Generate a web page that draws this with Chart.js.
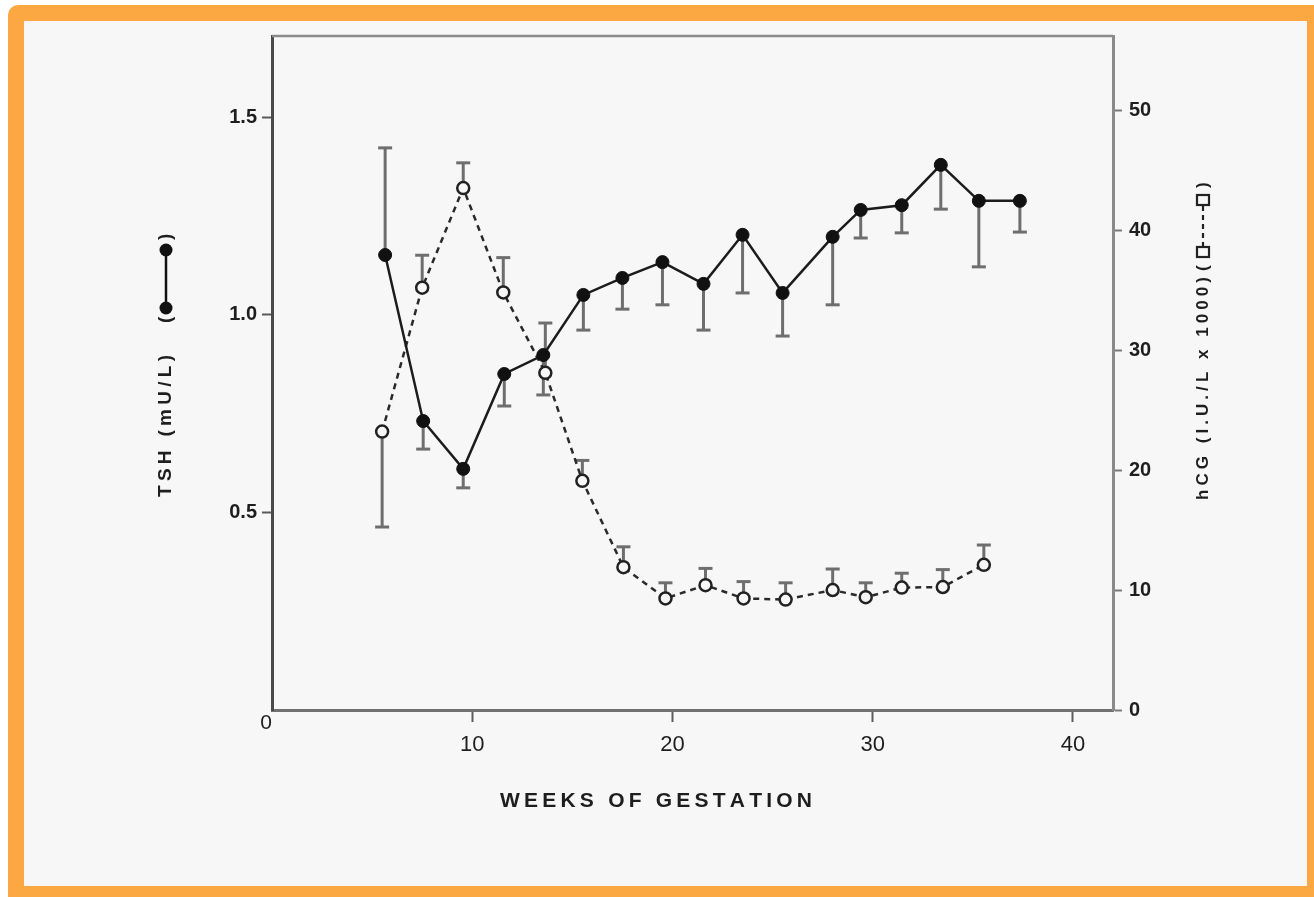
<!DOCTYPE html>
<html><head><meta charset="utf-8">
<script src="https://cdn.jsdelivr.net/npm/chart.js@4.4.0/dist/chart.umd.min.js"></script>
<style>
html,body{margin:0;padding:0;background:#fff;width:1314px;height:897px;overflow:hidden;}
#frame{position:absolute;left:8px;top:5px;right:0;bottom:0;box-sizing:border-box;border-style:solid;border-color:#FBA843;border-width:16px 7px 11px 16px;border-top-left-radius:10px;background:#F7F7F7;}
#wrap{position:absolute;left:0;top:0;width:1314px;height:897px;}
</style></head><body>
<div id="frame"></div>
<div id="wrap"><canvas id="c" width="1314" height="897"></canvas></div>
<script>
// ---- data ----
const tshWeeks = [5.65, 7.55, 9.55, 11.6, 13.55, 15.55, 17.5, 19.5, 21.55, 23.5, 25.5, 28.0, 29.4, 31.45, 33.4, 35.3, 37.35];
const tshValues = [1.151, 0.731, 0.610, 0.850, 0.898, 1.050, 1.093, 1.133, 1.078, 1.202, 1.055, 1.197, 1.265, 1.277, 1.379, 1.288, 1.288];
const tshErrorEnds = [1.422, 0.660, 0.562, 0.769, 0.797, 0.961, 1.014, 1.025, 0.961, 1.055, 0.946, 1.025, 1.194, 1.207, 1.267, 1.121, 1.209];
const hcgWeeks = [5.5, 7.5, 9.55, 11.55, 13.65, 15.5, 17.55, 19.65, 21.65, 23.55, 25.65, 28.0, 29.65, 31.45, 33.5, 35.55];
const hcgValues = [23.2, 35.2, 43.5, 34.8, 28.1, 19.1, 11.9, 9.3, 10.4, 9.3, 9.2, 10.0, 9.4, 10.2, 10.25, 12.1];
const hcgErrorEnds = [15.25, 37.9, 45.6, 37.7, 32.25, 20.8, 13.6, 10.6, 11.8, 10.7, 10.6, 11.75, 10.6, 11.4, 11.7, 13.75];
const xTickStep = 10;
const tshTickStep = 0.5;
const hcgTickStep = 10;
const xTitle = 'WEEKS OF GESTATION';
const leftTitle = 'TSH (mU/L)';
const rightTitle = 'hCG (I.U./L x 1000)';

const FONT = '"Liberation Sans", Arial, sans-serif';
const INK = '#1e1e1e';

function drawSpaced(ctx, text, x, y, total) {
  const chars = Array.from(text);
  let w = 0; chars.forEach(c => w += ctx.measureText(c).width);
  const sp = chars.length > 1 ? (total - w) / (chars.length - 1) : 0;
  chars.forEach(c => { ctx.fillText(c, x, y); x += ctx.measureText(c).width + sp; });
}

const decorPlugin = {
  id: 'decor',
  beforeDatasetsDraw(chart) {
    const ctx = chart.ctx, xs = chart.scales.x;
    const drawBars = (wk, vals, ends, ys) => {
      ctx.save();
      ctx.strokeStyle = '#6e6e6e'; ctx.lineWidth = 3; ctx.lineCap = 'butt';
      wk.forEach((w, i) => {
        const px = xs.getPixelForValue(w), py = ys.getPixelForValue(vals[i]), pe = ys.getPixelForValue(ends[i]);
        ctx.beginPath(); ctx.moveTo(px, py); ctx.lineTo(px, pe); ctx.stroke();
        ctx.beginPath(); ctx.moveTo(px - 7, pe); ctx.lineTo(px + 7, pe); ctx.stroke();
      });
      ctx.restore();
    };
    drawBars(tshWeeks, tshValues, tshErrorEnds, chart.scales.y);
    drawBars(hcgWeeks, hcgValues, hcgErrorEnds, chart.scales.y2);
  },
  afterDraw(chart) {
    const ctx = chart.ctx, a = chart.chartArea, xs = chart.scales.x;
    ctx.save();
    // top frame line
    ctx.strokeStyle = '#8a8a8a'; ctx.lineWidth = 2.5;
    ctx.beginPath(); ctx.moveTo(a.left, a.top); ctx.lineTo(a.right, a.top); ctx.stroke();
    ctx.fillStyle = INK;
    // origin label
    ctx.font = '21px ' + FONT; ctx.textAlign = 'center'; ctx.textBaseline = 'middle';
    ctx.fillText('0', xs.getPixelForValue(0) - 6, a.bottom + 13);
    // x title
    ctx.font = 'bold 21px ' + FONT; ctx.textAlign = 'left';
    drawSpaced(ctx, xTitle, 500, 801, 312);
    // left title
    ctx.save();
    ctx.translate(166, 497); ctx.rotate(-Math.PI / 2);
    ctx.font = 'bold 19px ' + FONT; ctx.textBaseline = 'middle'; ctx.textAlign = 'left';
    drawSpaced(ctx, leftTitle, 0, 0, 142);
    // legend symbol (filled)
    ctx.fillText('(', 174, 0);
    ctx.fillText(')', 257, 0);
    ctx.strokeStyle = '#111'; ctx.lineWidth = 2.5;
    ctx.beginPath(); ctx.moveTo(189, 0); ctx.lineTo(247, 0); ctx.stroke();
    ctx.fillStyle = '#111';
    [189, 247].forEach(t => { ctx.beginPath(); ctx.arc(t, 0, 6.5, 0, Math.PI * 2); ctx.fill(); });
    ctx.restore();
    // right title
    ctx.save();
    ctx.translate(1203, 500); ctx.rotate(-Math.PI / 2);
    ctx.fillStyle = INK;
    ctx.font = 'bold 17px ' + FONT; ctx.textBaseline = 'middle'; ctx.textAlign = 'left';
    drawSpaced(ctx, rightTitle, 0, 0, 223);
    ctx.fillText('(', 229, 0);
    ctx.fillText(')', 312, 0);
    ctx.strokeStyle = '#222'; ctx.lineWidth = 2.2;
    ctx.setLineDash([5, 4]);
    ctx.beginPath(); ctx.moveTo(253, 0); ctx.lineTo(298, 0); ctx.stroke();
    ctx.setLineDash([]);
    [248, 300].forEach(t => { ctx.fillStyle = '#f7f7f7'; ctx.fillRect(t - 5, -6, 10, 12); ctx.strokeRect(t - 5, -6, 10, 12); });
    ctx.restore();
    ctx.restore();
  }
};

const tickCol = c => (c.tick && c.tick.value === 0) ? 'rgba(0,0,0,0)' : '#5a5a5a';

new Chart(document.getElementById('c'), {
  type: 'line',
  data: {
    datasets: [
      {
        label: 'TSH', yAxisID: 'y',
        data: tshWeeks.map((w, i) => ({ x: w, y: tshValues[i] })),
        borderColor: '#1c1c1c', borderWidth: 2.5, tension: 0,
        pointRadius: 6.5, pointBackgroundColor: '#111', pointBorderColor: '#111', pointBorderWidth: 1
      },
      {
        label: 'hCG', yAxisID: 'y2',
        data: hcgWeeks.map((w, i) => ({ x: w, y: hcgValues[i] })),
        borderColor: '#2a2a2a', borderWidth: 2.5, borderDash: [6, 5], tension: 0,
        pointRadius: 6, pointBackgroundColor: '#f7f7f7', pointBorderColor: '#222', pointBorderWidth: 2.5
      }
    ]
  },
  options: {
    responsive: false, animation: false, devicePixelRatio: 1,
    layout: { padding: { top: 36, left: 0, right: 0, bottom: 0 } },
    plugins: { legend: { display: false }, tooltip: { enabled: false }, title: { display: false } },
    scales: {
      x: {
        type: 'linear', position: 'bottom', min: 0, max: 42,
        afterFit(s) { s.height = 187; },
        ticks: { stepSize: xTickStep, includeBounds: false, autoSkip: false, maxRotation: 0, color: INK,
          font: { family: FONT, size: 22 }, padding: 10, callback: v => v === 0 ? '' : String(v) },
        grid: { drawOnChartArea: false, drawTicks: true, tickLength: 12, tickWidth: 2, tickColor: tickCol },
        border: { display: true, color: '#707070', width: 3 }
      },
      y: {
        type: 'linear', position: 'left', min: 0, max: 1.705,
        afterFit(s) { s.width = 272; },
        ticks: { stepSize: tshTickStep, includeBounds: false, color: INK, font: { family: FONT, size: 20, weight: 'bold' }, padding: 5,
          callback: v => v === 0 ? '' : Number(v).toFixed(1) },
        grid: { drawOnChartArea: false, drawTicks: true, tickLength: 10, tickWidth: 2, tickColor: tickCol },
        border: { display: true, color: '#4a4a4a', width: 3 }
      },
      y2: {
        type: 'linear', position: 'right', min: 0, max: 56.17,
        afterFit(s) { s.width = 201; },
        ticks: { stepSize: hcgTickStep, includeBounds: false, color: INK, font: { family: FONT, size: 20, weight: 'bold' }, padding: 7,
          callback: v => String(v) },
        grid: { drawOnChartArea: false, drawTicks: true, tickLength: 9, tickWidth: 2, tickColor: '#7a7a7a' },
        border: { display: true, color: '#8a8a8a', width: 3 }
      }
    }
  },
  plugins: [decorPlugin]
});
</script>
</body></html>
